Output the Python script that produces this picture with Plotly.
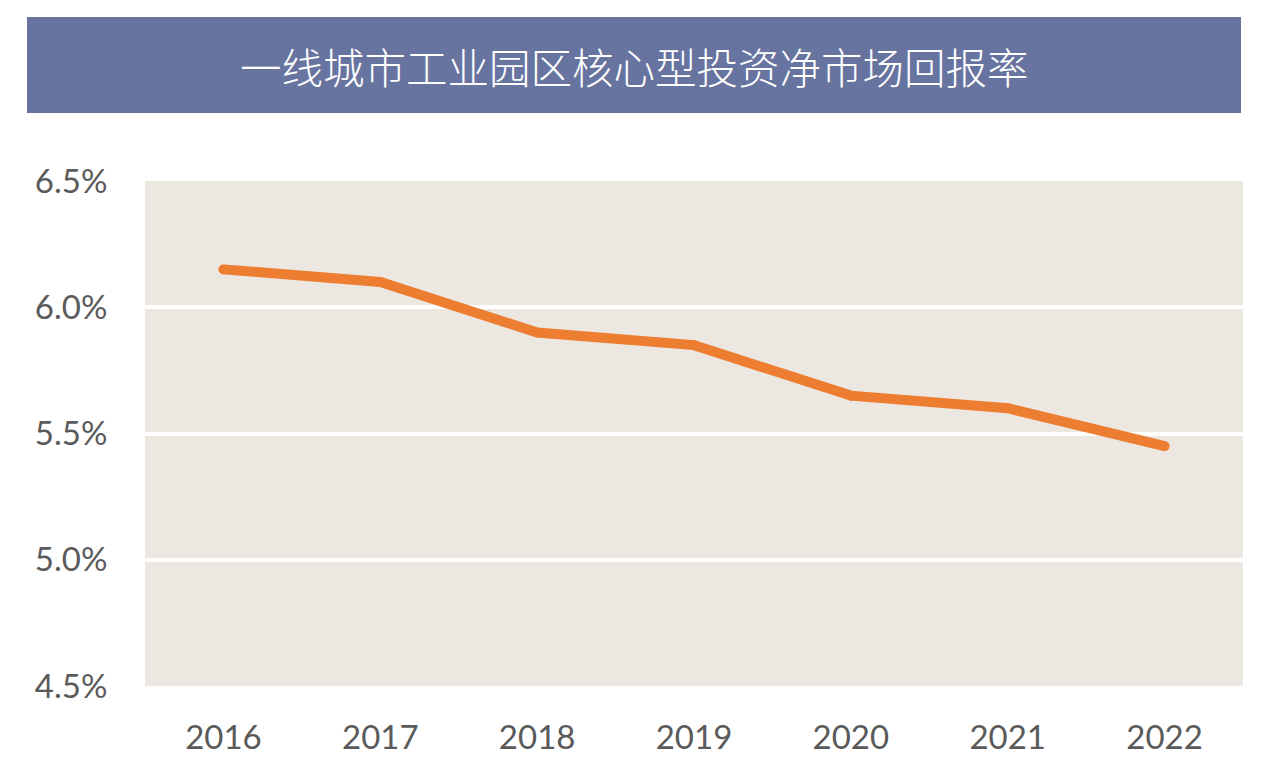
import plotly.graph_objects as go

years = ["2016", "2017", "2018", "2019", "2020", "2021", "2022"]
returns = [6.15, 6.10, 5.90, 5.85, 5.65, 5.60, 5.45]
y_ticks = [4.5, 5.0, 5.5, 6.0, 6.5]
y_tick_text = ["4.5%", "5.0%", "5.5%", "6.0%", "6.5%"]
title = "一线城市工业园区核心型投资净市场回报率"

W, H = 1268, 766
ml, mr, mt, mb = 145, 25, 181, 80
pw, ph = W - ml - mr, H - mt - mb

fig = go.Figure()
fig.add_trace(go.Scatter(
    x=years, y=returns, mode="lines+markers",
    line=dict(color="#ED7D31", width=10),
    marker=dict(color="#ED7D31", size=10, line=dict(width=0)),
    hoverinfo="skip",
))

def px_x(p):
    return (p - ml) / pw

def px_y(p):
    return (H - mb - p) / ph

fig.add_shape(type="rect", xref="paper", yref="paper",
              x0=px_x(27), x1=px_x(1241), y0=px_y(113), y1=px_y(17),
              fillcolor="#6874A0", line=dict(width=0), layer="below")
fig.add_annotation(xref="paper", yref="paper", x=px_x(634), y=px_y(66),
                   text=title, showarrow=False,
                   font=dict(family="Noto Sans CJK SC", size=41.5, color="white", weight=300),
                   xanchor="center", yanchor="middle")

tf = dict(family="Lato", size=33, color="#5a5a5a", weight=400)

fig.update_layout(
    width=W, height=H,
    margin=dict(l=ml, r=mr, t=mt, b=mb, autoexpand=False),
    paper_bgcolor="white",
    plot_bgcolor="#ECE7E1",
    showlegend=False,
    font=tf,
)
fig.update_xaxes(type="category", range=[-0.5, 6.5], showgrid=False, zeroline=False,
                 showline=False, ticks="outside", ticklen=22, automargin=False,
                 tickcolor="rgba(0,0,0,0)", tickfont=tf)
fig.update_yaxes(range=[4.5, 6.5], tickvals=y_ticks, ticktext=y_tick_text,
                 showgrid=True, gridcolor="white", gridwidth=4,
                 zeroline=False, showline=False, automargin=False,
                 ticks="outside", ticklen=30, tickcolor="rgba(0,0,0,0)",
                 tickfont=tf)

fig.write_html("out.html")
